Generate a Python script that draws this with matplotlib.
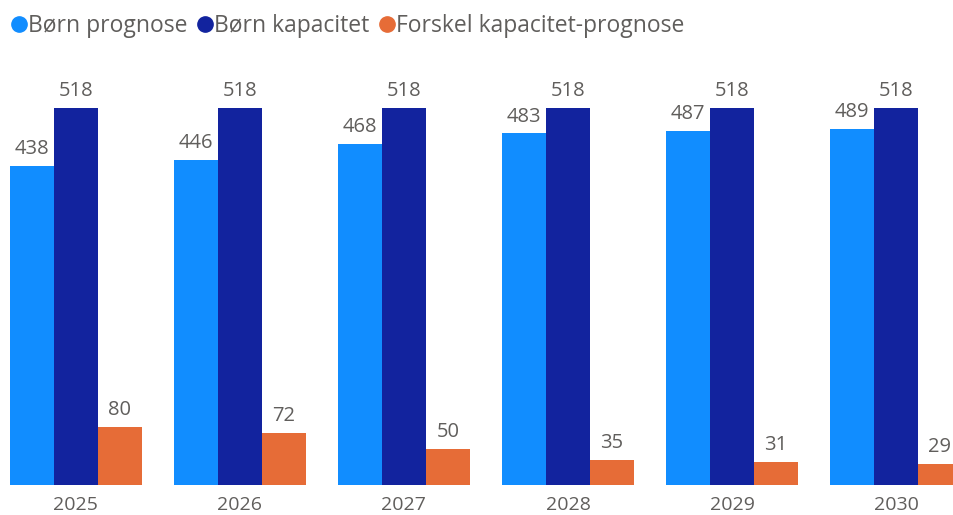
import matplotlib
matplotlib.use("Agg")
import matplotlib.pyplot as plt
from matplotlib.lines import Line2D
import numpy as np

years = ["2025", "2026", "2027", "2028", "2029", "2030"]
prognose = [438, 446, 468, 483, 487, 489]
kapacitet = [518, 518, 518, 518, 518, 518]
forskel = [80, 72, 50, 35, 31, 29]

series_names = ["Børn prognose", "Børn kapacitet", "Forskel kapacitet-prognose"]
colors = ["#118DFF", "#12239E", "#E66C37"]
text_color = "#605E5C"

plt.rcParams['font.family'] = ['Open Sans', 'DejaVu Sans']

fig = plt.figure(figsize=(9.54, 5.15), dpi=100)
ax = fig.add_axes([0, 0.0583, 1, 0.8252])

x = np.arange(len(years))
w = 0.268
for i, (vals, c) in enumerate(zip([prognose, kapacitet, forskel], colors)):
    pos = x + (i - 1) * w
    ax.bar(pos, vals, width=w, color=c, linewidth=0)
    for xi, v in zip(pos, vals):
        ax.annotate(f"{v}", (xi, v), xytext=(0, 5), textcoords="offset points",
                    ha="center", va="bottom", fontsize=14.5, color=text_color)

ax.set_xlim(-0.463, 5.354)
ax.set_ylim(0, 584)
ax.set_xticks(x)
ax.set_xticklabels(years, fontsize=14, color=text_color)
ax.tick_params(axis="x", length=0, pad=8)
ax.set_yticks([])
for s in ax.spines.values():
    s.set_visible(False)

handles = [Line2D([0], [0], marker='o', linestyle='', markersize=11,
                  markerfacecolor=c, markeredgecolor=c) for c in colors]
leg = fig.legend(handles, series_names, loc="upper left", bbox_to_anchor=(-0.004, 1.003),
                 ncol=3, frameon=False, fontsize=16.5, handlelength=0.55,
                 handletextpad=0.12, columnspacing=0.5, borderaxespad=0.3)
for t in leg.get_texts():
    t.set_color(text_color)

fig.savefig("out.png", dpi=100)
